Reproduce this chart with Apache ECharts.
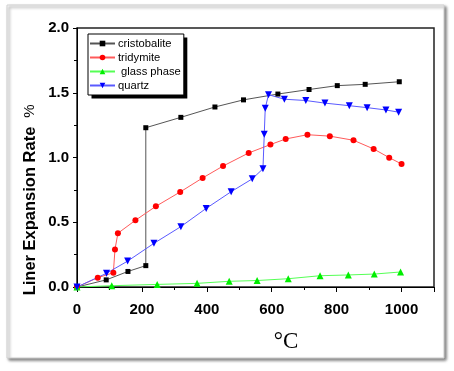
<!DOCTYPE html>
<html><head><meta charset="utf-8">
<script src="https://cdn.jsdelivr.net/npm/echarts@6/dist/echarts.min.js"></script>
<style>html,body{margin:0;padding:0;background:#fff}#c{width:454px;height:371px}</style>
</head><body><div id="c"></div>
<script>
var cristobaliteT = [0, 90, 157, 212, 212, 320, 425, 513, 619, 715, 802, 888, 993];
var cristobaliteY = [0, 0.055, 0.12, 0.165, 1.23, 1.31, 1.39, 1.445, 1.49, 1.525, 1.555, 1.565, 1.585];
var tridymiteT = [0, 64, 112, 117, 126, 180, 243, 318, 387, 450, 529, 596, 643, 710, 779, 852, 914, 962, 1000];
var tridymiteY = [0, 0.072, 0.11, 0.29, 0.415, 0.515, 0.623, 0.734, 0.842, 0.934, 1.035, 1.10, 1.143, 1.176, 1.165, 1.133, 1.066, 0.999, 0.95];
var glassT = [0, 107, 247, 370, 469, 555, 651, 749, 836, 916, 997];
var glassY = [0, 0.01, 0.02, 0.028, 0.044, 0.05, 0.064, 0.087, 0.093, 0.10, 0.116];
var quartzT = [0, 91, 156, 237, 320, 398, 475, 540, 573, 577, 580, 590, 639, 705, 764, 839, 894, 952, 991];
var quartzY = [0, 0.106, 0.20, 0.337, 0.466, 0.607, 0.736, 0.835, 0.913, 1.18, 1.38, 1.485, 1.45, 1.44, 1.42, 1.40, 1.385, 1.367, 1.35];
var seriesNames = ['cristobalite', 'tridymite', ' glass phase', 'quartz'];
var xTicks = [0, 200, 400, 600, 800, 1000];
var yTicks = [0.0, 0.5, 1.0, 1.5, 2.0];

function pairs(a, b) { return a.map(function (v, i) { return [v, b[i]]; }); }

var chart = echarts.init(document.getElementById('c'));
var font = 'Liberation Sans, Arial, sans-serif';
function mk(name, t, y, sym, size, mcol, lcol, rot) {
  return {
    name: name, type: 'line', data: pairs(t, y), symbol: sym, symbolSize: size,
    symbolRotate: rot || 0, showAllSymbol: true,
    itemStyle: { color: mcol, borderWidth: 0 },
    lineStyle: { color: lcol, width: 1 },
    emphasis: { disabled: true }, animation: false
  };
}
var baseGraphic = [
  { id: 'frame', type: 'rect', z: -10, shape: { x: 7, y: 5, width: 437, height: 353 },
    style: { fill: '#fff', stroke: '#d0d0d0', lineWidth: 1, shadowColor: 'rgba(0,0,0,0.5)', shadowBlur: 3, shadowOffsetX: 2, shadowOffsetY: 2 } },
  { id: 'ytitle', type: 'text', x: 30, y: 211, rotation: Math.PI / 2, z: 10,
    style: { text: 'Liner Expansion Rate', font: 'bold 16.5px ' + font, fill: '#000', align: 'center', verticalAlign: 'middle' } },
  { id: 'pct', type: 'text', x: 30, y: 111, rotation: Math.PI / 2, z: 10,
    style: { text: '%', font: '15px ' + font, fill: '#000', align: 'center', verticalAlign: 'middle' } },
  { id: 'xtitle', type: 'text', x: 286, y: 342, z: 10,
    style: { text: '°C', font: '23px Liberation Serif, Times New Roman, serif', fill: '#000', align: 'center', verticalAlign: 'middle' } }
];
chart.setOption({
  animation: false,
  graphic: baseGraphic,
  grid: { left: 77, right: 20, top: 28, bottom: 84, show: true, borderColor: '#222', borderWidth: 1.5, backgroundColor: 'transparent' },
  legend: {
    orient: 'vertical', left: 88, top: 34, itemWidth: 25, itemHeight: 7, itemGap: 3,
    padding: [4, 3, 4, 1], borderColor: '#000', borderWidth: 1, backgroundColor: '#fff',
    textStyle: { fontFamily: font, fontSize: 11.2, color: '#000', padding: [0, 0, 0, -2] },
    data: seriesNames, selectedMode: false
  },
  xAxis: {
    type: 'value', min: 0, max: 1100, interval: 200,
    axisLine: { onZero: false, lineStyle: { color: '#000', width: 1 } },
    axisTick: { inside: false, length: 5, lineStyle: { color: '#000' } },
    minorTick: { show: true, splitNumber: 2, length: 3, lineStyle: { color: '#000' } },
    splitLine: { show: false },
    axisLabel: { margin: 15, fontFamily: font, fontWeight: 'bold', fontSize: 15, color: '#000',
      formatter: function (v) { return xTicks.indexOf(v) >= 0 ? String(v) : ''; } }
  },
  yAxis: {
    type: 'value', min: 0, max: 2, interval: 0.5,
    axisLine: { show: true, onZero: false, lineStyle: { color: '#000', width: 1 } },
    axisTick: { show: true, inside: false, length: 4, lineStyle: { color: '#000' } },
    minorTick: { show: true, splitNumber: 2, length: 3, lineStyle: { color: '#000' } },
    splitLine: { show: false },
    axisLabel: { margin: 8, fontFamily: font, fontWeight: 'bold', fontSize: 15, color: '#000',
      formatter: function (v) { return yTicks.indexOf(v) >= 0 ? v.toFixed(1) : ''; } }
  },
  series: [
    mk(seriesNames[0], cristobaliteT, cristobaliteY, 'rect', 5, '#000', '#555'),
    mk(seriesNames[1], tridymiteT, tridymiteY, 'circle', 6, '#ff0000', '#ff5a5a'),
    mk(seriesNames[2], glassT, glassY, 'triangle', 7, '#00ee00', '#55ff55'),
    mk(seriesNames[3], quartzT, quartzY, 'triangle', 7, '#0000ff', '#5a5aff', 180)
  ]
});
// legend drop shadow sized from the legend's own box
var r = { x: 88, y: 34, width: 92, height: 59 };
try {
  var lv = chart.getViewOfComponentModel(chart.getModel().getComponent('legend'));
  var br = lv.group.getBoundingRect();
  br.applyTransform(lv.group.getLocalTransform());
  r = { x: br.x, y: br.y, width: br.width, height: br.height };
} catch (e) {}
chart.setOption({ graphic: [{ id: 'legshadow', type: 'rect', z: 3, shape: { x: r.x + 4, y: r.y + 4, width: r.width - 1, height: r.height - 1 }, style: { fill: '#000' } }] });
</script></body></html>
